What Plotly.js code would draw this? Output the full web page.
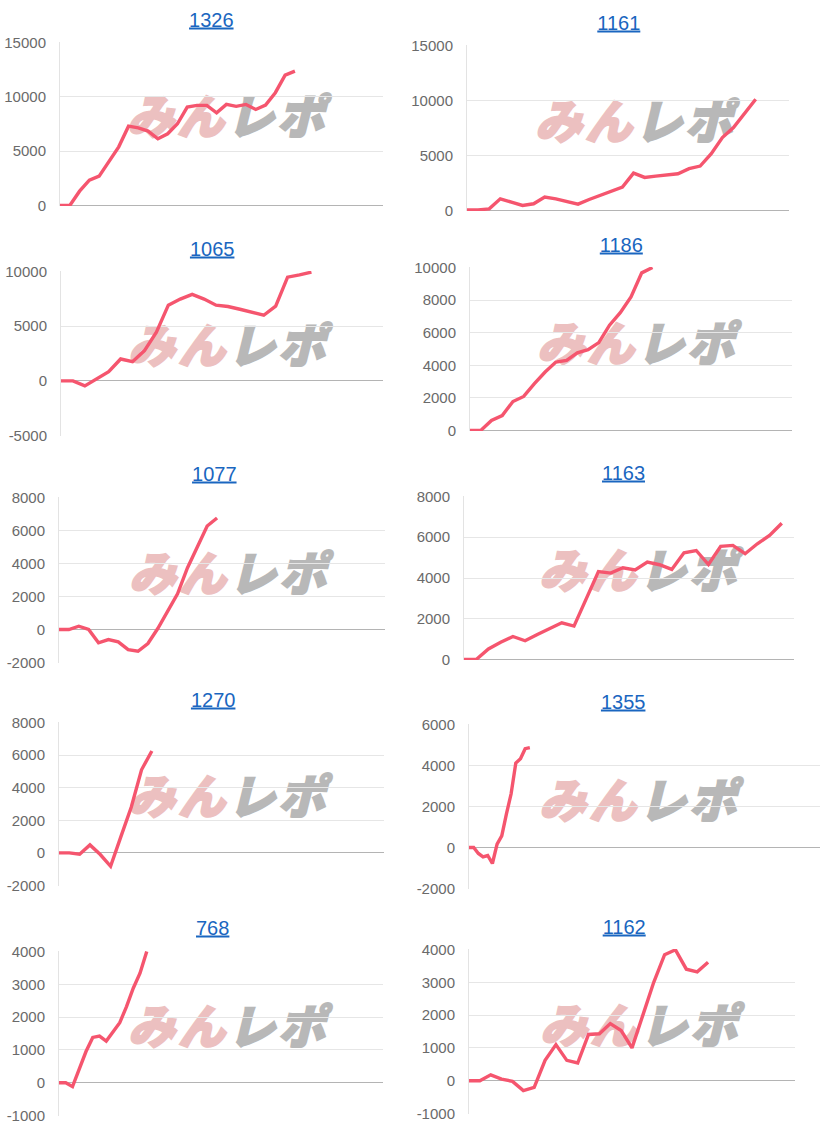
<!DOCTYPE html>
<html>
<head>
<meta charset="utf-8">
<script src="https://cdn.plot.ly/plotly-3.0.1.min.js"></script>
<style>
  html, body { margin:0; padding:0; background:#fff; width:820px; height:1130px; overflow:hidden; }
  .panel { position:absolute; }
  .title { position:absolute; transform:translate(-50%,-50%); font-family:"Liberation Sans", Arial, sans-serif; font-size:20px; color:#1a66c0; text-decoration:underline; white-space:nowrap; }
  .wm { position:absolute; transform:translate(-50%,-50%) skewX(-14deg); font-family:"Noto Sans CJK JP", sans-serif; font-weight:900; font-size:47px; letter-spacing:3px; white-space:nowrap; line-height:1; }
  .wm .a { color:#ecc0c0; -webkit-text-stroke:2px #ecc0c0; }
  .wm .b { color:#b8b8b8; -webkit-text-stroke:2px #b8b8b8; }
</style>
</head>
<body>
<script>
// ---- data ----
const titles = ["1326", "1161", "1065", "1186", "1077", "1163", "1270", "1355", "768", "1162"];

const s1326 = [0, 0, 1320, 2330, 2700, 4080, 5400, 7300, 7150, 6850, 6140, 6600, 7520, 9050, 9210, 9210, 8530, 9300, 9120, 9300, 8840, 9240, 10380, 12000, 12370];
const s1161 = [60, 60, 150, 1060, 760, 460, 610, 1220, 1060, 820, 580, 1000, 1370, 1730, 2130, 3400, 3010, 3130, 3250, 3340, 3800, 4040, 5170, 6630, 7540, 8880, 10120];
const s1065 = [0, 0, -460, 150, 830, 2000, 1750, 2770, 4460, 6920, 7480, 7910, 7480, 6920, 6800, 6550, 6310, 6000, 6830, 9480, 9690, 9940];
const s1186 = [0, 0, 615, 920, 1780, 2090, 2870, 3590, 4200, 4300, 4760, 4960, 5390, 6460, 7230, 8200, 9670, 10000];
const s1077 = [0, 0, 200, 0, -810, -610, -750, -1220, -1320, -850, 60, 1120, 2160, 3730, 5050, 6270, 6760];
const s1163 = [0, 0, 520, 850, 1130, 920, 1230, 1500, 1800, 1640, 2980, 4320, 4240, 4500, 4400, 4780, 4650, 4420, 5240, 5350, 4660, 5550, 5600, 5190, 5680, 6090, 6690];
const s1270 = [0, 0, -80, 490, -100, -820, 1000, 2800, 5100, 6250];
const s1355 = [0, 0, -290, -460, -390, -780, 160, 570, 1640, 2620, 4120, 4330, 4820, 4870];
const s768  = [0, 0, -120, 390, 950, 1380, 1420, 1270, 1560, 1830, 2320, 2880, 3340, 4000];
const s1162 = [0, 0, 180, 50, -20, -300, -200, 620, 1100, 620, 540, 1410, 1430, 1740, 1530, 1000, 2000, 3000, 3840, 3990, 3400, 3320, 3610];

const series = [s1326, s1161, s1065, s1186, s1077, s1163, s1270, s1355, s768, s1162];

// x slots per chart (axis length)
const xSlots = [33, 29, 27, 30, 33, 27, 31.5, 75, 48, 30];

// y tick values / labels per chart
const yTicks = [
  [0, 5000, 10000, 15000],
  [0, 5000, 10000, 15000],
  [-5000, 0, 5000, 10000],
  [0, 2000, 4000, 6000, 8000, 10000],
  [-2000, 0, 2000, 4000, 6000, 8000],
  [0, 2000, 4000, 6000, 8000],
  [-2000, 0, 2000, 4000, 6000, 8000],
  [-2000, 0, 2000, 4000, 6000],
  [-1000, 0, 1000, 2000, 3000, 4000],
  [-1000, 0, 1000, 2000, 3000, 4000]
];
const yTickText = yTicks.map(a => a.map(v => String(v)));

// ---- layout geometry (pixels) ----
// [plotLeft, plotRight, plotTop, plotBottom, titleX, titleY, wmX, wmY]
const geom = [
  [59.5, 382, 42.3, 205, 211.3, 19.7, 232, 113],
  [467.3, 789, 45.7, 210.7, 618.8, 23.3, 640, 118],
  [60.7, 382.7, 271.7, 435.7, 212.2, 249, 233, 342],
  [470, 791.7, 267.3, 430.7, 621.3, 245, 642, 340],
  [59.3, 385, 497, 661.7, 214.3, 474, 234, 570],
  [464.3, 794, 496, 659, 623.5, 473.3, 644, 567],
  [58.7, 384, 722.3, 885.7, 213.2, 700, 233, 793],
  [468.7, 820, 724.3, 888.3, 623.2, 702.3, 644, 797],
  [58.7, 383, 951.7, 1115.7, 212.7, 928.3, 233, 1023],
  [469.3, 795, 949, 1112.7, 624.2, 926.7, 645, 1022]
];

const LINE = "#f5556e";
const ML = 60, MR = 4, MT = 12, MB = 12;

series.forEach((ys, i) => {
  const [x0, x1, t0, b0, tx, ty, wx, wy] = geom[i];

  const wm = document.createElement("div");
  wm.className = "wm";
  wm.style.left = wx + "px";
  wm.style.top = wy + "px";
  wm.innerHTML = '<span class="a">みん</span><span class="b">レポ</span>';
  document.body.appendChild(wm);

  const tv = yTicks[i];
  const lo = tv[0], hi = tv[tv.length - 1];
  const span = hi - lo;
  const eps = span * 0.003;
  const pxPerUnit = (b0 - t0) / span;
  const padPx = eps * pxPerUnit;

  const d = document.createElement("div");
  d.className = "panel";
  d.style.left = (x0 - ML) + "px";
  d.style.top = (t0 - padPx - MT) + "px";
  const w = (x1 - x0) + ML + MR, h = (b0 - t0) + 2 * padPx + MT + MB;
  d.style.width = w + "px";
  d.style.height = h + "px";
  document.body.appendChild(d);

  const title = document.createElement("a");
  title.className = "title";
  title.href = "#";
  title.textContent = titles[i];
  title.style.left = tx + "px";
  title.style.top = ty + "px";
  document.body.appendChild(title);

  Plotly.newPlot(d, [{
    x: ys.map((_, k) => k),
    y: ys,
    type: "scatter",
    mode: "lines",
    line: { color: LINE, width: 3.4, shape: "linear" },
    hoverinfo: "skip",
    cliponaxis: true
  }], {
    width: w, height: h,
    margin: { l: ML, r: MR, t: MT, b: MB },
    paper_bgcolor: "rgba(0,0,0,0)",
    plot_bgcolor: "rgba(0,0,0,0)",
    showlegend: false,
    xaxis: { range: [0, xSlots[i]], showgrid: false, zeroline: false, showline: false, showticklabels: false, ticks: "", fixedrange: true },
    yaxis: {
      range: [lo - eps, hi + eps],
      tickvals: tv, ticktext: yTickText[i],
      showgrid: true, gridcolor: "#e6e6e6", gridwidth: 1,
      zeroline: true, zerolinecolor: "#b4b4b4", zerolinewidth: 1,
      showline: true, linecolor: "#e3e3e3", linewidth: 1,
      ticks: "", ticklabelstandoff: 10,
      tickfont: { family: "Liberation Sans, Arial, sans-serif", size: 15, color: "#6a6a6a" },
      fixedrange: true
    }
  }, { staticPlot: true, displayModeBar: false });
});
</script>
</body>
</html>
